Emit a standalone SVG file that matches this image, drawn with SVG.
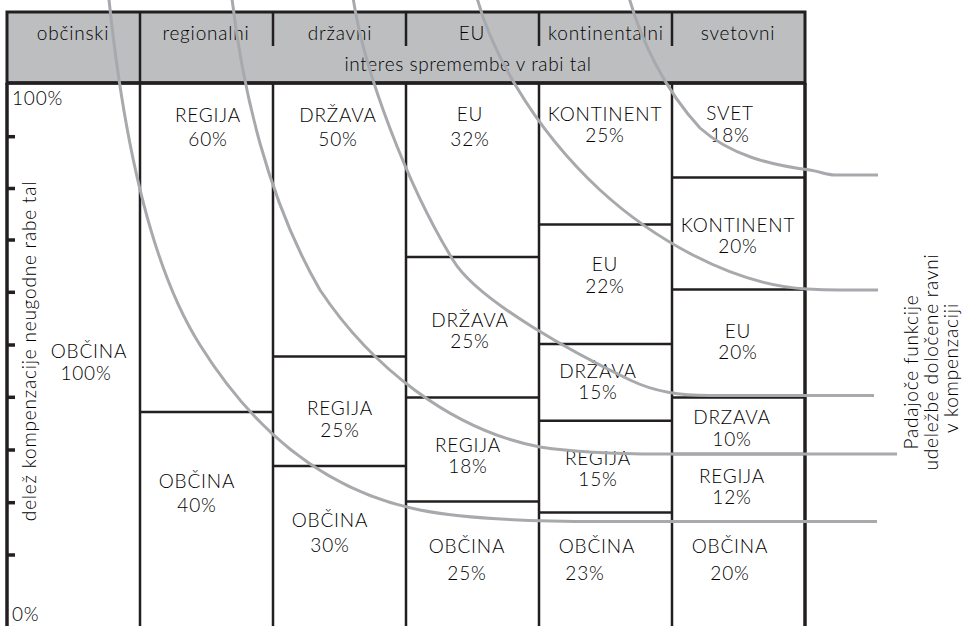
<svg xmlns="http://www.w3.org/2000/svg" width="967" height="626" viewBox="0 0 967 626">
<style>
.t{font-family:Lato,"Open Sans","Liberation Sans",sans-serif;font-size:19px;font-weight:300;letter-spacing:0.8px;fill:#000000;text-anchor:middle}
.ln{stroke:#231f20;stroke-width:2.5;fill:none}
.thk{stroke:#231f20;stroke-width:3.5;fill:none}
.cv{stroke:#a7a9ac;stroke-width:3;fill:none}
</style>
<rect width="967" height="626" fill="#ffffff"/>
<g id="header">
<rect x="7" y="12" width="798" height="71" fill="#bcbec0" stroke="#231f20" stroke-width="3"/>
<line class="ln" x1="140" y1="12" x2="140" y2="83"/>
<line class="ln" x1="273" y1="12" x2="273" y2="46"/>
<line class="ln" x1="406" y1="12" x2="406" y2="46"/>
<line class="ln" x1="539" y1="12" x2="539" y2="46"/>
<line class="ln" x1="672" y1="12" x2="672" y2="46"/>
<line class="thk" x1="6" y1="83" x2="806" y2="83"/>
<text class="t" x="73" y="40">občinski</text>
<text class="t" x="206" y="40">regionalni</text>
<text class="t" x="340" y="40">državni</text>
<text class="t" x="472" y="40">EU</text>
<text class="t" x="606" y="40">kontinentalni</text>
<text class="t" x="738" y="40">svetovni</text>
<text class="t" x="468" y="71" style="letter-spacing:0.6px">interes spremembe v rabi tal</text>
</g>
<g id="grid">
<line class="thk" x1="7" y1="83" x2="7" y2="626"/>
<line class="thk" x1="805" y1="83" x2="805" y2="626"/>
<line class="ln" x1="140" y1="83" x2="140" y2="626"/>
<line class="ln" x1="273" y1="83" x2="273" y2="626"/>
<line class="ln" x1="406" y1="83" x2="406" y2="626"/>
<line class="ln" x1="539" y1="83" x2="539" y2="626"/>
<line class="ln" x1="672" y1="83" x2="672" y2="626"/>
</g>
<g id="axis">
<g class="thk">
<line x1="7" y1="136.7" x2="15" y2="136.7"/>
<line x1="7" y1="188.5" x2="15" y2="188.5"/>
<line x1="7" y1="240" x2="15" y2="240"/>
<line x1="7" y1="292.3" x2="15" y2="292.3"/>
<line x1="7" y1="345" x2="15" y2="345"/>
<line x1="7" y1="397.3" x2="15" y2="397.3"/>
<line x1="7" y1="450" x2="15" y2="450"/>
<line x1="7" y1="502.7" x2="15" y2="502.7"/>
<line x1="7" y1="555" x2="15" y2="555"/>
</g>
<text class="t" x="12" y="105" style="text-anchor:start">100%</text>
<text class="t" x="12" y="621" style="text-anchor:start">0%</text>
<text class="t" transform="translate(36,351) rotate(-90)">delež kompenzacije neugodne rabe tal</text>
</g>
<g id="col-obcinski">
<text class="t" x="89" y="358">OBČINA</text>
<text class="t" x="86" y="380">100%</text>
</g>
<g id="col-regionalni">
<line class="ln" x1="140" y1="412" x2="273" y2="412"/>
<text class="t" x="208" y="122">REGIJA</text>
<text class="t" x="208" y="146">60%</text>
<text class="t" x="197" y="488">OBČINA</text>
<text class="t" x="197" y="512">40%</text>
</g>
<g id="col-drzavni">
<line class="ln" x1="273" y1="356.5" x2="406" y2="356.5"/>
<line class="ln" x1="273" y1="466" x2="406" y2="466"/>
<text class="t" x="338" y="122">DRŽAVA</text>
<text class="t" x="338" y="146">50%</text>
<text class="t" x="340" y="415">REGIJA</text>
<text class="t" x="340" y="437">25%</text>
<text class="t" x="330" y="527">OBČINA</text>
<text class="t" x="330" y="552">30%</text>
</g>
<g id="col-eu">
<line class="ln" x1="406" y1="257" x2="539" y2="257"/>
<line class="ln" x1="406" y1="397.5" x2="539" y2="397.5"/>
<line class="ln" x1="406" y1="501.5" x2="539" y2="501.5"/>
<text class="t" x="470" y="121">EU</text>
<text class="t" x="470" y="146">32%</text>
<text class="t" x="470" y="327">DRŽAVA</text>
<text class="t" x="470" y="348">25%</text>
<text class="t" x="468" y="452">REGIJA</text>
<text class="t" x="468" y="473">18%</text>
<text class="t" x="467" y="553">OBČINA</text>
<text class="t" x="467" y="580">25%</text>
</g>
<g id="col-kontinentalni">
<line class="ln" x1="539" y1="224.5" x2="672" y2="224.5"/>
<line class="ln" x1="539" y1="344" x2="672" y2="344"/>
<line class="ln" x1="539" y1="420.7" x2="672" y2="420.7"/>
<line class="ln" x1="539" y1="512.5" x2="672" y2="512.5"/>
<text class="t" x="605" y="121">KONTINENT</text>
<text class="t" x="605" y="142">25%</text>
<text class="t" x="605" y="271">EU</text>
<text class="t" x="605" y="293">22%</text>
<text class="t" x="598" y="378">DRŽAVA</text>
<text class="t" x="598" y="399">15%</text>
<text class="t" x="598" y="465">REGIJA</text>
<text class="t" x="598" y="486">15%</text>
<text class="t" x="597" y="553">OBČINA</text>
<text class="t" x="585" y="580">23%</text>
</g>
<g id="col-svetovni">
<line class="ln" x1="672" y1="177.5" x2="805" y2="177.5"/>
<line class="ln" x1="672" y1="289.5" x2="805" y2="289.5"/>
<line class="ln" x1="672" y1="397.5" x2="805" y2="397.5"/>
<line class="ln" x1="672" y1="454" x2="805" y2="454"/>
<line class="ln" x1="672" y1="521.5" x2="805" y2="521.5"/>
<text class="t" x="730" y="120">SVET</text>
<text class="t" x="730" y="142">18%</text>
<text class="t" x="738" y="232">KONTINENT</text>
<text class="t" x="738" y="253">20%</text>
<text class="t" x="738" y="338">EU</text>
<text class="t" x="738" y="359">20%</text>
<text class="t" x="732" y="424">DRZAVA</text>
<text class="t" x="732" y="446">10%</text>
<text class="t" x="732" y="483">REGIJA</text>
<text class="t" x="732" y="504">12%</text>
<text class="t" x="730" y="553">OBČINA</text>
<text class="t" x="730" y="580">20%</text>
</g>
<g id="connectors">
<path class="cv" d="M108,-10 C118,90 140,250 200,345 C250,425 320,490 420,510 C470,520 540,521.5 600,521.5 L877,521.5"/>
<path class="cv" d="M231,-10 C242,90 268,200 320,290 C370,365 450,430 540,447 C580,453 620,454 660,454 L897,454"/>
<path class="cv" d="M352,-10 C362,70 410,190 453,260 C478,302 580,356 630,380 C655,392 680,395.5 710,395.5 L874,395.5"/>
<path class="cv" d="M475,-10 C488,45 530,125 600,190 C650,236 730,285 807,289 C830,290.5 840,290 850,290 L878,290"/>
<path class="cv" d="M627,-10 C640,40 665,90 700,128 C730,155 770,165 810,170 C822,172 826,175 835,175 L878,175"/>
</g>
<g id="legend">
<text class="t" transform="translate(918,372) rotate(-90)">Padajoče funkcije</text>
<text class="t" transform="translate(938,362) rotate(-90)">udeležbe določene ravni</text>
<text class="t" transform="translate(958,368) rotate(-90)">v kompenzaciji</text>
</g>
</svg>
